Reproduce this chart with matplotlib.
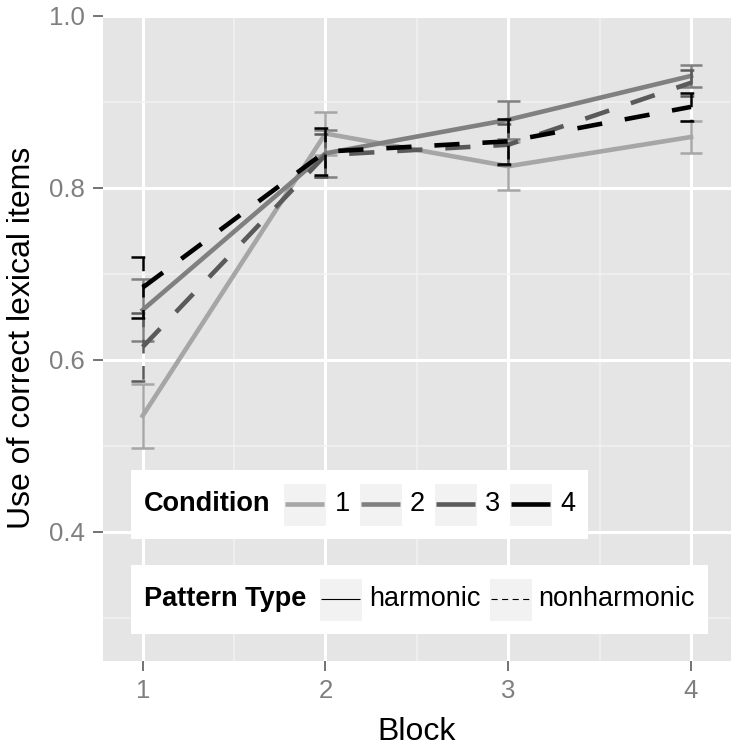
import matplotlib
matplotlib.use("Agg")
import matplotlib.pyplot as plt
from matplotlib.patches import Rectangle
from matplotlib.lines import Line2D
from matplotlib.offsetbox import AnchoredOffsetbox, HPacker, TextArea, DrawingArea

plt.rcParams['font.family'] = ['Liberation Sans', 'DejaVu Sans']

# data
blocks = [1, 2, 3, 4]
conditions = ['1', '2', '3', '4']
pattern_types = ['harmonic', 'nonharmonic']
cond_pattern = ['harmonic', 'harmonic', 'nonharmonic', 'nonharmonic']

mean_c1 = [0.535, 0.863, 0.825, 0.859]
mean_c2 = [0.658, 0.840, 0.879, 0.930]
mean_c3 = [0.615, 0.838, 0.850, 0.922]
mean_c4 = [0.684, 0.842, 0.854, 0.894]

err_c1 = [0.037, 0.025, 0.028, 0.019]
err_c2 = [0.036, 0.027, 0.022, 0.013]
err_c3 = [0.040, 0.025, 0.024, 0.015]
err_c4 = [0.035, 0.027, 0.026, 0.016]

means = [mean_c1, mean_c2, mean_c3, mean_c4]
errs = [err_c1, err_c2, err_c3, err_c4]

colors = ['#A6A6A6', '#808080', '#5A5A5A', '#000000']
DASH = (0, (5.5, 5))
styles = {'harmonic': '-', 'nonharmonic': DASH}

PANEL = '#E5E5E5'
GREY50 = '#7F7F7F'
CAP_W = 0.062
LEG_FS = 19.5

fig = plt.figure(figsize=(7.37, 7.5), dpi=100)
ax = fig.add_axes([0.1393, 0.1187, 0.8526, 0.8604])
ax.set_facecolor(PANEL)
for s in ax.spines.values():
    s.set_visible(False)

for i, cond in enumerate(conditions):
    ls = styles[cond_pattern[i]]
    lo = [m - e for m, e in zip(means[i], errs[i])]
    hi = [m + e for m, e in zip(means[i], errs[i])]
    z = 3 + i
    ax.hlines(hi, [b - CAP_W for b in blocks], [b + CAP_W for b in blocks],
              colors=colors[i], linewidth=1.8, linestyles=ls, zorder=z)
    ax.vlines(blocks, hi, lo, colors=colors[i], linewidth=1.8,
              linestyles=ls, zorder=z)
    ax.hlines(lo, [b - CAP_W for b in blocks], [b + CAP_W for b in blocks],
              colors=colors[i], linewidth=1.8, linestyles=ls, zorder=z)
    ax.plot(blocks, means[i], color=colors[i], linewidth=3.3,
            linestyle=ls, zorder=z + 0.5)

ax.set_xlim(0.781, 4.219)
ax.set_ylim(0.25, 1.0)
ax.set_xticks(blocks)
ax.set_xticklabels([str(b) for b in blocks])
ax.set_yticks([0.4, 0.6, 0.8, 1.0])
ax.set_yticklabels(['0.4', '0.6', '0.8', '1.0'])
ax.set_xticks([1.5, 2.5, 3.5], minor=True)
ax.set_yticks([0.3, 0.5, 0.7, 0.9], minor=True)
ax.grid(which='major', color='white', linewidth=2.2)
ax.grid(which='minor', color='#F2F2F2', linewidth=1.1)
ax.set_axisbelow(True)
ax.tick_params(which='major', length=7, width=1.1, color='#4D4D4D',
               labelsize=18.5, labelcolor=GREY50, pad=6)
ax.tick_params(which='minor', length=0)

ax.set_xlabel('Block', fontsize=23, va='center')
ax.xaxis.set_label_coords(0.5, -0.110)
ax.set_ylabel('Use of correct lexical items', fontsize=23, va='center')
ax.yaxis.set_label_coords(-0.129, 0.5)


def px(v):
    return v * 0.72


def key_area(color, lw, ls):
    w = px(43)
    da = DrawingArea(w, w, 0, 0)
    da.add_artist(Rectangle((0, 0), w, w, facecolor='#F2F2F2',
                            edgecolor='white', linewidth=0.8))
    da.add_artist(Line2D([px(2), w - px(2)], [w / 2, w / 2], color=color,
                         linewidth=lw, linestyle=ls, solid_capstyle='butt'))
    return da


def make_legend(title, keys, labels, top, key_sep, item_sep):
    items = []
    for k, lab in zip(keys, labels):
        items.append(HPacker(children=[k, TextArea(lab, textprops=dict(fontsize=LEG_FS))],
                             sep=px(key_sep), align='center', pad=0))
    title_box = TextArea(title, textprops=dict(fontsize=LEG_FS, fontweight='bold'))
    row = HPacker(children=[title_box, HPacker(children=items, sep=px(item_sep),
                                                align='center', pad=0)],
                  sep=px(13), align='center', pad=px(13))
    box = AnchoredOffsetbox(loc='upper left', child=row, pad=0, borderpad=0,
                            frameon=True, bbox_to_anchor=(0.045, top),
                            bbox_transform=ax.transAxes)
    box.patch.set_facecolor('white')
    box.patch.set_edgecolor('none')
    box.set_zorder(10)
    ax.add_artist(box)


make_legend('Condition',
            [key_area(c, 3.3, '-') for c in colors],
            conditions, 0.296, 8, 9)
make_legend('Pattern Type',
            [key_area('black', 0.8, styles[p] if p == 'harmonic' else (0, (5.5, 4)))
             for p in pattern_types],
            pattern_types, 0.149, 7, 8)

fig.savefig('out.png', dpi=100, facecolor='white')
